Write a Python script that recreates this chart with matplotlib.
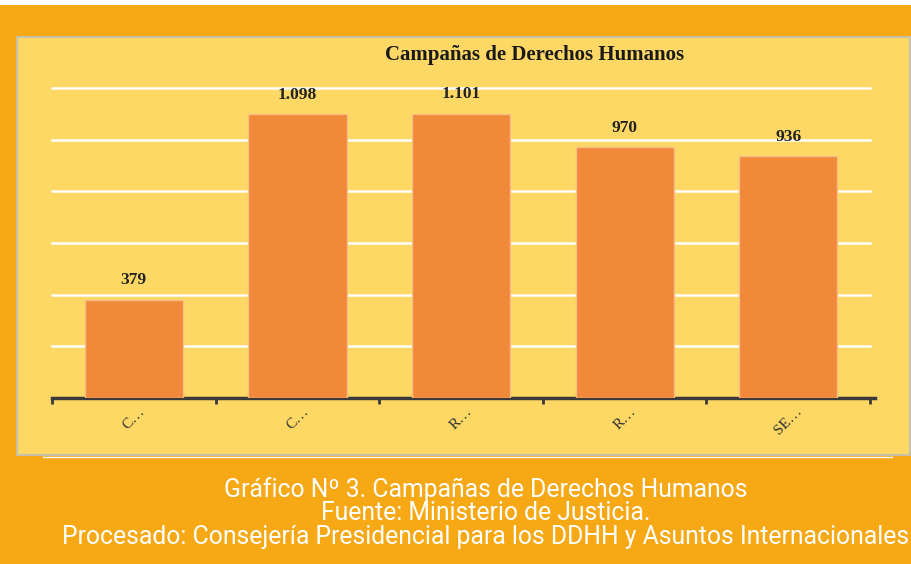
import numpy as np
import matplotlib
matplotlib.use("Agg")
import matplotlib.pyplot as plt
from matplotlib.patches import Rectangle

# datos
categorias = ["C…", "C…", "R…", "R…", "SE…"]
valores = [379, 1098, 1101, 970, 936]
etiquetas = ["379", "1.098", "1.101", "970", "936"]
yticks = [200, 400, 600, 800, 1000, 1200]

naranja = "#F6A815"
amarillo = "#FDD865"
barra = "#F0893A"

fig = plt.figure(figsize=(9.12, 5.64), dpi=100)
fig.patch.set_facecolor(naranja)

# fondo: franja blanca, panel amarillo y linea blanca
bg = fig.add_axes([0, 0, 1, 1], zorder=-5)
bg.set_xlim(0, 912)
bg.set_ylim(564, 0)
bg.axis("off")
bg.add_patch(Rectangle((0, 0), 912, 5, facecolor="white", edgecolor="none"))
bg.add_patch(Rectangle((17, 37), 893, 418, facecolor=amarillo, edgecolor="#C8C0A8", linewidth=1.5))
bg.plot([43, 892], [457, 457], color="white", lw=1)

ax = fig.add_axes([52/912, 1 - 398/564, (875 - 52)/912, (398 - 88)/564])
ax.set_facecolor("none")
x = np.arange(len(valores))
ax.bar(x, valores, width=0.6, color=barra, edgecolor="#F9BE86", linewidth=1, zorder=3)
for xi, v, t in zip(x, valores, etiquetas):
    ax.text(xi, v + 45, t, ha="center", va="bottom", fontsize=12.5, fontweight="bold",
            family="Liberation Serif", color="#222222", zorder=4)

ax.set_xlim(-0.5, 4.53)
ax.set_ylim(0, 1200)
for yv in yticks:
    ax.plot([-0.5, 4.5], [yv, yv], color="white", lw=1.8, zorder=1, clip_on=False)

for s in ["top", "right", "left"]:
    ax.spines[s].set_visible(False)
ax.spines["bottom"].set_color("#3a3a3a")
ax.spines["bottom"].set_linewidth(2.5)
ax.set_yticks([])
ax.set_xticks(np.arange(-0.5, 5, 1), minor=True)
ax.tick_params(axis="x", which="minor", length=4, width=2, color="#3a3a3a", direction="out")
ax.set_xticks(x)
ax.set_xticklabels(categorias, rotation=45, family="Liberation Serif", fontsize=11,
                   color="#333333", ha="center")
ax.tick_params(axis="x", which="major", length=0, pad=5)

fig.text(535/912, 1 - 55/564, "Campañas de Derechos Humanos", ha="center", va="center",
         fontsize=15, fontweight="bold", family="Liberation Serif", color="#1a1a1a")

cap = ("Gráfico Nº 3. Campañas de Derechos Humanos\n"
       "Fuente: Ministerio de Justicia.\n"
       "Procesado: Consejería Presidencial para los DDHH y Asuntos Internacionales")
fig.text(486/912, 1 - 513/564, cap, ha="center", va="center", color="white",
         fontsize=17.8, family="Roboto", linespacing=0.98)

fig.savefig("out.png", dpi=100, facecolor=fig.get_facecolor())
